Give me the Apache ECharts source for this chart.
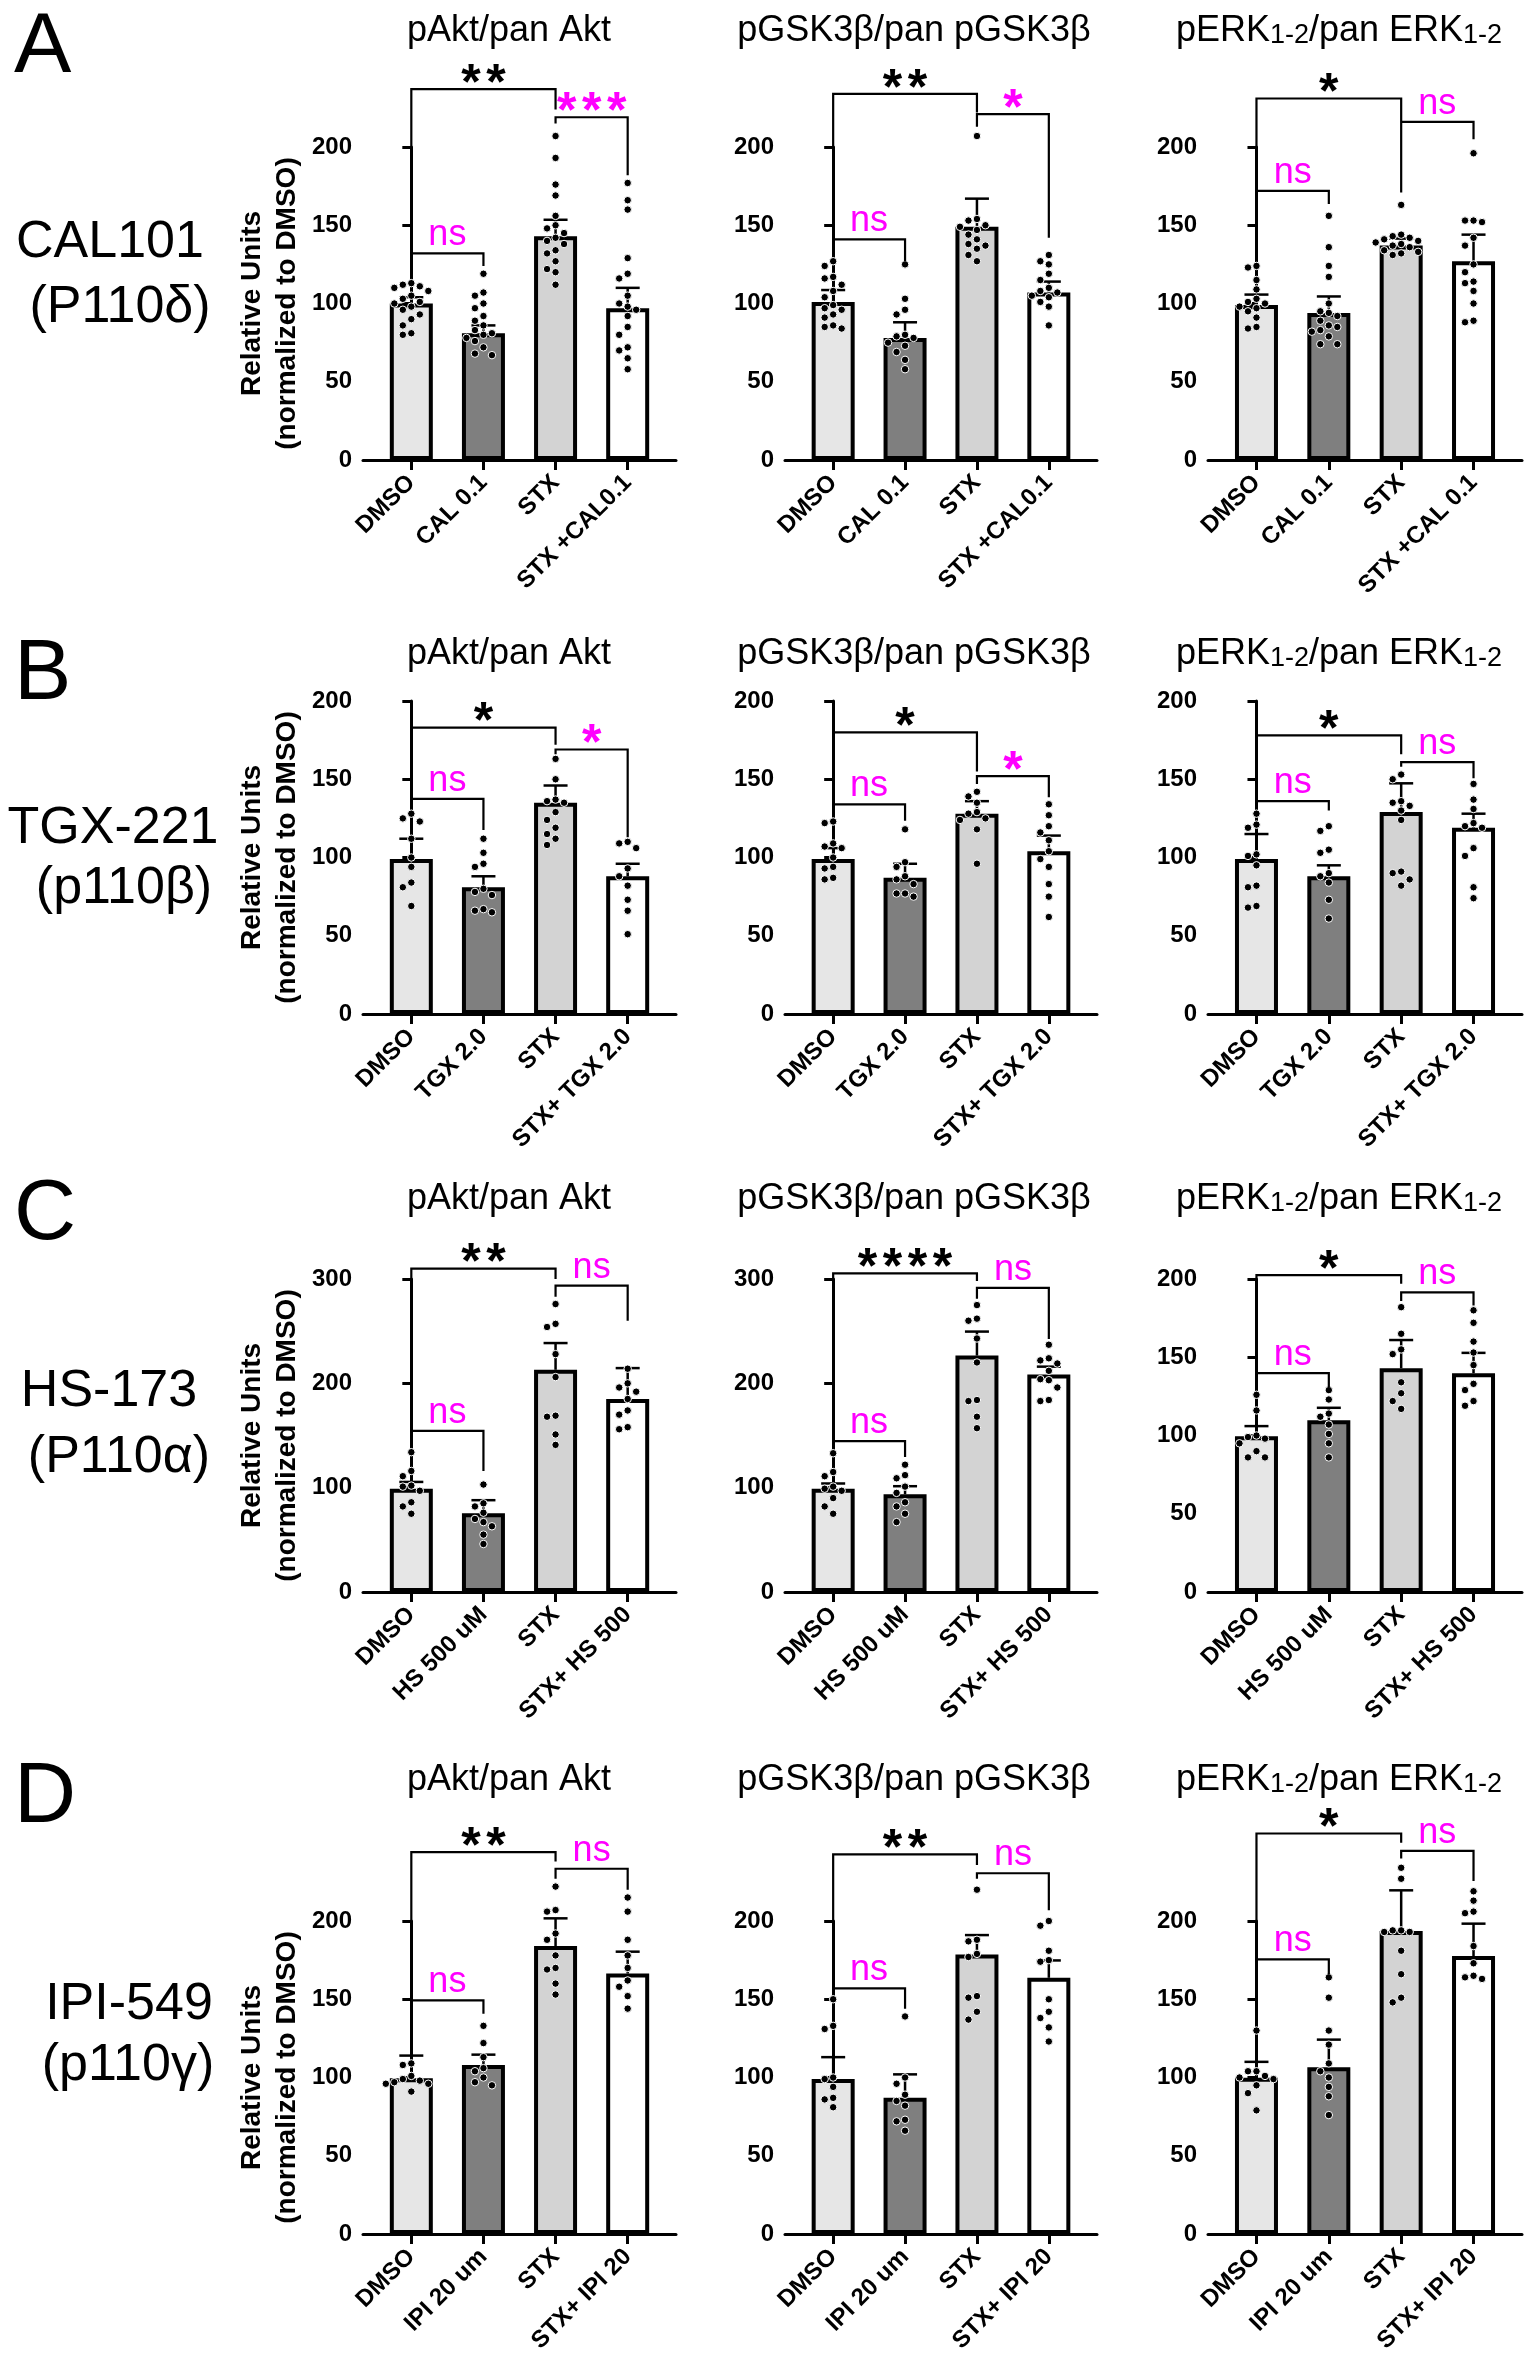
<!DOCTYPE html>
<html>
<head>
<meta charset="utf-8">
<title>PI3K isoform inhibitors – pAkt / pGSK3β / pERK</title>
<script src="https://cdn.jsdelivr.net/npm/echarts@6/dist/echarts.min.js"></script>
<style>
  html, body { margin: 0; padding: 0; background: #fff; }
  #main { width: 1535px; height: 2362px; }
</style>
</head>
<body>
<div id="main"></div>
<script>
const FONT = '"Liberation Sans", Arial, Helvetica, sans-serif';
const MAGENTA = '#ff00ff';

// x labels per row
const catsCal = ['DMSO', 'CAL 0.1', 'STX', 'STX +CAL0.1'];
const catsCalErk = ['DMSO', 'CAL 0.1', 'STX', 'STX +CAL 0.1'];
const catsTgx = ['DMSO', 'TGX 2.0', 'STX', 'STX+ TGX 2.0'];
const catsHs = ['DMSO', 'HS 500 uM', 'STX', 'STX+ HS 500'];
const catsIpi = ['DMSO', 'IPI 20 um', 'STX', 'STX+ IPI 20'];

const titles = ['pAkt/pan Akt', 'pGSK3β/pan pGSK3β', '{a|pERK}{s|1-2}{a|/pan ERK}{s|1-2}'];
const rowLetters = ['A', 'B', 'C', 'D'];
const rowDrug = [['CAL101', '(P110δ)'], ['TGX-221', '(p110β)'], ['HS-173', '(P110α)'], ['IPI-549', '(p110γ)']];
const yName = 'Relative Units\n(normalized to DMSO)';

// ---- A: CAL101 ----
const calAktMean = [100, 81, 143, 97];
const calAktSem = [4, 5, 10.5, 13];
const calAktDots = [
  [113, 112, 111, 110, 108, 105, 103, 101, 100, 98, 96, 93, 90, 86, 81, 80],
  [119, 107, 105, 100, 97, 92, 89, 86, 83, 81, 80, 78, 76, 72, 68, 67],
  [207, 193, 176, 169, 156, 150, 148, 145, 142, 140, 138, 134, 132, 127, 122, 120, 112],
  [177, 166, 160, 129, 119, 116, 105, 100, 98, 96, 92, 85, 80, 72, 70, 65, 58]
];
// [from, to, top, left leg end, right leg end, label]
const calAktSig = [[0, 2, 237, 136, 224, '**'], [2, 3, 219, 215, 182, '***'], [0, 1, 132, 124, 124, 'ns']];

const calGskMean = [101, 78, 149, 107];
const calGskSem = [7.6, 10, 18, 7];
const calGskDots = [
  [127, 124, 117, 116, 112, 108, 104, 99, 97, 96, 93, 91, 86, 85, 84],
  [125, 103, 96, 93, 80, 79, 78, 75, 73, 69, 64, 58],
  [207, 154, 153, 150, 149, 147, 144, 141, 138, 137, 135, 131, 127],
  [131, 127, 125, 119, 115, 110, 108, 107, 105, 104, 101, 98, 86]
];
const calGskSig = [[0, 2, 234, 148, 222, '**'], [2, 3, 221, 213, 142, '*'], [0, 1, 141, 134.5, 127, 'ns']];

const calErkMean = [99, 94, 137, 127];
const calErkSem = [6.7, 10.5, 4.5, 17];
const calErkDots = [
  [124, 123, 115, 109, 103, 101, 100, 98, 97, 95, 91, 85, 84],
  [156, 136, 124, 117, 100, 95, 94, 92, 89, 86, 85, 83, 82, 79, 74, 74],
  [163, 144, 143, 142, 141, 140, 139, 138, 137, 136, 134, 133, 132, 131],
  [196, 153, 153, 152, 142, 137, 125, 120, 114, 113, 108, 100, 89, 88]
];
const calErkSig = [[0, 2, 231, 178, 171, '*'], [2, 3, 216, 216, 205, 'ns'], [0, 1, 172, 167, 163.5, 'ns']];

// ---- B: TGX-221 ----
const tgxAktMean = [99, 81, 135, 88];
const tgxAktSem = [13, 7, 11, 8];
const tgxAktDots = [
  [128, 125, 123, 112, 100, 94, 84, 81, 69],
  [112, 103, 96, 94, 80, 78, 76, 67, 66, 65],
  [163, 150, 137, 136, 135, 129, 124, 119, 115, 112, 108],
  [110, 109, 106, 93, 88, 82, 73, 66, 51]
];
const tgxAktSig = [[0, 2, 183, 144, 172, '*'], [2, 3, 169, 166, 113, '*'], [0, 1, 137.5, 132, 117.5, 'ns']];

const tgxGskMean = [99, 87, 128, 104];
const tgxGskSem = [7, 9, 8, 10];
const tgxGskDots = [
  [123, 122, 109, 107, 106, 100, 94, 93, 87, 86],
  [118, 97, 94, 88, 86, 83, 77, 77, 75],
  [142, 139, 135, 129, 128, 125, 124, 118, 96],
  [134, 127, 120, 116, 111, 104, 99, 94, 83, 75, 62]
];
const tgxGskSig = [[0, 2, 180, 135, 155, '*'], [2, 3, 152, 147, 138.5, '*'], [0, 1, 134, 128, 123.5, 'ns']];

const tgxErkMean = [99, 88, 129, 119];
const tgxErkSem = [16, 7, 18.4, 9];
const tgxErkDots = [
  [128, 121, 119, 102, 101, 95, 82, 81, 69, 68],
  [120, 117, 105, 103, 90, 88, 84, 73, 61],
  [153, 150, 136, 135, 133, 130, 124, 91, 90, 86, 82],
  [147, 137, 131, 122, 120, 119, 106, 101, 81, 74]
];
const tgxErkSig = [[0, 2, 178, 141, 166, '*'], [2, 3, 161, 158, 150.6, 'ns'], [0, 1, 136, 131, 130, 'ns']];

// ---- C: HS-173 ----
const hsAktMean = [99, 75.5, 213, 185];
const hsAktSem = [6.5, 12.5, 25.6, 29.6];
const hsAktDots = [
  [134, 116, 111, 102, 101, 97, 86, 82, 75],
  [103, 85, 82, 76, 70, 67, 63, 55, 46],
  [276, 257, 254, 228, 206, 169, 168, 151, 141],
  [214, 200, 196, 192, 185, 174, 170, 158, 156]
];
const hsAktSig = [[0, 2, 310, 172, 300, '**'], [2, 3, 293.6, 283, 260, 'ns'], [0, 1, 154.5, 150, 116, 'ns']];

const hsGskMean = [99, 93.7, 226.6, 208.5];
const hsGskSem = [5, 7.7, 23, 7.5];
const hsGskDots = [
  [133, 115, 111, 101, 99, 97, 90, 82, 75],
  [122, 112, 109, 101, 95, 86, 82, 75, 67],
  [275, 262, 260, 243, 220, 184, 183, 168, 157],
  [237, 224, 222, 219, 212, 204, 203, 196, 184, 183]
];
const hsGskSig = [[0, 2, 305.4, 152, 298, '****'], [2, 3, 291.4, 281, 242.6, 'ns'], [0, 1, 144.7, 139, 129.4, 'ns']];

const hsErkMean = [99.5, 109.7, 143, 139.8];
const hsErkSem = [6.5, 8, 18, 13];
const hsErkDots = [
  [126, 116, 100, 99, 98, 95, 90, 86, 86],
  [129, 123, 114, 112, 107, 101, 95, 86],
  [182, 165, 155, 152, 134, 127, 122, 117],
  [180, 172, 160, 153, 145, 133, 129, 122, 119]
];
const hsErkSig = [[0, 2, 202.5, 146, 197, '*'], [2, 3, 191.5, 186, 183, 'ns'], [0, 1, 139.8, 136, 131, 'ns']];

// ---- D: IPI-549 ----
const ipiAktMean = [99.5, 108, 184, 166.4];
const ipiAktSem = [14.5, 6.6, 17.7, 14];
const ipiAktDots = [
  [109, 108, 101, 99, 98, 97, 96, 96, 91],
  [133, 122, 113, 106, 104, 100, 97, 95],
  [222, 207, 206, 192, 188, 178, 170, 169, 160, 153],
  [215, 206, 188, 178, 170, 162, 158, 152, 144]
];
const ipiAktSig = [[0, 2, 244, 157, 238, '**'], [2, 3, 233.4, 227, 220, 'ns'], [0, 1, 149.3, 122.6, 140.7, 'ns']];

const ipiGskMean = [99, 87, 178.6, 163.7];
const ipiGskSem = [14, 15, 12.4, 11.1];
const ipiGskDots = [
  [150, 133, 131, 100, 99, 94, 87, 86, 81],
  [139, 100, 96, 89, 85, 82, 73, 72, 66],
  [220, 188, 187, 179, 177, 152, 151, 142, 137],
  [200, 197, 181, 175, 174, 150, 142, 138, 132, 123]
];
const ipiGskSig = [[0, 2, 242.6, 164.6, 235.8, '**'], [2, 3, 230.5, 227, 206.8, 'ns'], [0, 1, 157, 154, 144, 'ns']];

const ipiErkMean = [99.9, 106.5, 193.6, 177.6];
const ipiErkSem = [10.1, 17.7, 26, 20.7];
const ipiErkDots = [
  [130, 104, 104, 101, 100, 99, 95, 90, 79],
  [164, 151, 130, 121, 109, 104, 100, 94, 88, 76],
  [234, 227, 194, 194, 193, 193, 181, 166, 151, 148],
  [219, 213, 206, 205, 184, 173, 165, 164, 163]
];
const ipiErkSig = [[0, 2, 255.9, 180, 250, '*'], [2, 3, 244.8, 240, 225.6, 'ns'], [0, 1, 175.5, 138.3, 165.9, 'ns']];

const panels = [
  { row: 0, col: 0, cats: catsCal, mean: calAktMean, sem: calAktSem, dots: calAktDots, sig: calAktSig, yMax: 200, yStep: 50 },
  { row: 0, col: 1, cats: catsCal, mean: calGskMean, sem: calGskSem, dots: calGskDots, sig: calGskSig, yMax: 200, yStep: 50 },
  { row: 0, col: 2, cats: catsCalErk, mean: calErkMean, sem: calErkSem, dots: calErkDots, sig: calErkSig, yMax: 200, yStep: 50 },
  { row: 1, col: 0, cats: catsTgx, mean: tgxAktMean, sem: tgxAktSem, dots: tgxAktDots, sig: tgxAktSig, yMax: 200, yStep: 50 },
  { row: 1, col: 1, cats: catsTgx, mean: tgxGskMean, sem: tgxGskSem, dots: tgxGskDots, sig: tgxGskSig, yMax: 200, yStep: 50 },
  { row: 1, col: 2, cats: catsTgx, mean: tgxErkMean, sem: tgxErkSem, dots: tgxErkDots, sig: tgxErkSig, yMax: 200, yStep: 50 },
  { row: 2, col: 0, cats: catsHs, mean: hsAktMean, sem: hsAktSem, dots: hsAktDots, sig: hsAktSig, yMax: 300, yStep: 100 },
  { row: 2, col: 1, cats: catsHs, mean: hsGskMean, sem: hsGskSem, dots: hsGskDots, sig: hsGskSig, yMax: 300, yStep: 100 },
  { row: 2, col: 2, cats: catsHs, mean: hsErkMean, sem: hsErkSem, dots: hsErkDots, sig: hsErkSig, yMax: 200, yStep: 50 },
  { row: 3, col: 0, cats: catsIpi, mean: ipiAktMean, sem: ipiAktSem, dots: ipiAktDots, sig: ipiAktSig, yMax: 200, yStep: 50 },
  { row: 3, col: 1, cats: catsIpi, mean: ipiGskMean, sem: ipiGskSem, dots: ipiGskDots, sig: ipiGskSig, yMax: 200, yStep: 50 },
  { row: 3, col: 2, cats: catsIpi, mean: ipiErkMean, sem: ipiErkSem, dots: ipiErkDots, sig: ipiErkSig, yMax: 200, yStep: 50 }
];

// layout
const rowTop = [147, 701, 1279, 1921];
const plotH = 313;
const colLeft = [363, 785, 1208];
const plotW = [313, 312, 314];
const X_MIN = -0.67, X_MAX = 3.67;
const barFill = ['#e6e6e6', '#7f7f7f', '#d3d3d3', '#ffffff'];

// simple beeswarm: spread points sideways so they don't overlap (px -> x units)
function swarm(vals, pxPerY, pxPerX) {
  const gap = 8.5, step = 8.5;
  const order = vals.map((v, i) => i).sort((a, b) => vals[b] - vals[a]);
  const placed = [];
  const off = [];
  order.forEach(i => {
    const y = vals[i] * pxPerY;
    for (let k = 0; k < 40; k++) {
      const c = k === 0 ? 0 : (k % 2 ? -1 : 1) * Math.ceil(k / 2) * step;
      if (placed.every(p => Math.hypot(p[0] - c, p[1] - y) >= gap)) {
        placed.push([c, y]);
        off[i] = c / pxPerX;
        break;
      }
    }
  });
  return off;
}

const chart = echarts.init(document.getElementById('main'));
const option = {
  animation: false,
  backgroundColor: '#fff',
  grid: [], xAxis: [], yAxis: [], series: [], graphic: []
};

panels.forEach((p, k) => {
  const w = plotW[p.col];
  option.grid.push({ left: colLeft[p.col], top: rowTop[p.row], width: w, height: plotH, containLabel: false });
  option.xAxis.push({
    gridIndex: k, type: 'value', min: X_MIN, max: X_MAX,
    axisLine: { show: true, onZero: false, lineStyle: { color: '#000', width: 3 } },
    axisTick: { show: true, customValues: [0, 1, 2, 3], length: 10, lineStyle: { color: '#000', width: 3 } },
    axisLabel: {
      show: true, customValues: [0, 1, 2, 3], rotate: 45, margin: 19,
      formatter: v => p.cats[Math.round(v)],
      color: '#000', fontWeight: 'bold', fontSize: 24, fontFamily: FONT
    },
    splitLine: { show: false }
  });
  option.yAxis.push({
    gridIndex: k, type: 'value', min: 0, max: p.yMax, interval: p.yStep,
    name: p.col === 0 ? yName : '', nameLocation: 'middle', nameRotate: 90, nameGap: 58,
    nameTextStyle: { color: '#000', fontWeight: 'bold', fontSize: 28, lineHeight: 35, fontFamily: FONT },
    axisLine: { show: true, lineStyle: { color: '#000', width: 3 } },
    axisTick: { show: true, length: 9, lineStyle: { color: '#000', width: 3 } },
    axisLabel: { margin: 11, color: '#000', fontWeight: 'bold', fontSize: 24, fontFamily: FONT },
    splitLine: { show: false }
  });

  // bars (mean)
  option.series.push({
    type: 'bar', xAxisIndex: k, yAxisIndex: k, barWidth: 43, z: 2, silent: true,
    itemStyle: { borderColor: '#000', borderWidth: 4 },
    data: p.mean.map((m, i) => ({ value: [i, m], itemStyle: { color: barFill[i] } }))
  });

  // SEM, upper half only
  option.series.push({
    type: 'custom', xAxisIndex: k, yAxisIndex: k, z: 3, silent: true, clip: false,
    encode: { x: 0, y: 1 },
    data: p.mean.map((m, i) => [i, m, p.sem[i]]),
    renderItem: (params, api) => {
      const x = api.value(0), m = api.value(1), s = api.value(2);
      const a = api.coord([x, m]), b = api.coord([x, m + s]);
      const st = { stroke: '#000', lineWidth: 2.5 };
      return {
        type: 'group', children: [
          { type: 'line', shape: { x1: a[0], y1: a[1], x2: b[0], y2: b[1] }, style: st },
          { type: 'line', shape: { x1: b[0] - 12, y1: b[1], x2: b[0] + 12, y2: b[1] }, style: st }
        ]
      };
    }
  });

  // individual points
  const pts = [];
  p.dots.forEach((vals, i) => {
    const off = swarm(vals, plotH / p.yMax, w / (X_MAX - X_MIN));
    vals.forEach((v, j) => pts.push([i + off[j], v]));
  });
  option.series.push({
    type: 'scatter', xAxisIndex: k, yAxisIndex: k, z: 4, silent: true, clip: false,
    symbolSize: 7.5,
    itemStyle: { color: '#000', borderColor: '#fff', borderWidth: 1, opacity: 1 },
    data: pts
  });

  // significance brackets
  option.series.push({
    type: 'custom', xAxisIndex: k, yAxisIndex: k, z: 5, silent: true, clip: false,
    encode: { x: 0, y: 1 },
    data: p.sig.map(s => [s[0], s[2]]),
    renderItem: (params, api) => {
      const s = p.sig[params.dataIndex];
      const a = api.coord([s[0], s[3]]), b = api.coord([s[0], s[2]]);
      const c = api.coord([s[1], s[2]]), d = api.coord([s[1], s[4]]);
      const color = (s[0] === 0 && s[1] === 2) ? '#000' : MAGENTA;
      const mid = (b[0] + c[0]) / 2;
      const kids = [{
        type: 'polyline', shape: { points: [a, b, c, d] },
        style: { stroke: '#000', lineWidth: 2.2, fill: 'none' }
      }];
      if (s[5] === 'ns') {
        kids.push({
          type: 'text', x: mid, y: b[1] - 18,
          style: { text: 'ns', fill: color, font: '36px ' + FONT, align: 'center', verticalAlign: 'middle', textAlign: 'center', textVerticalAlign: 'middle' }
        });
      } else {
        const n = s[5].length;
        for (let j = 0; j < n; j++) {
          kids.push({
            type: 'text', x: mid + (j - (n - 1) / 2) * 25, y: b[1] - 4,
            style: { text: '*', fill: color, font: 'bold 50px ' + FONT, align: 'center', verticalAlign: 'middle', textAlign: 'center', textVerticalAlign: 'middle' }
          });
        }
      }
      return { type: 'group', children: kids };
    }
  });
});

// titles, panel letters, drug labels
const titleX = [509, 914, 1339];
const titleY = [31, 654, 1199, 1780];
const letterY = [48, 675, 1215, 1798];
const drugPos = [
  [[110, 243], [120, 308]],
  [[113, 829], [124, 889]],
  [[109, 1392], [119, 1458]],
  [[129, 2005], [128, 2066]]
];
function txt(x, y, text, font, align, extra) {
  return {
    type: 'text', x: x, y: y, silent: true,
    style: Object.assign({ text: text, fill: '#000', font: font, align: align, verticalAlign: 'middle', textAlign: align, textVerticalAlign: 'middle' }, extra || {})
  };
}
for (let r = 0; r < 4; r++) {
  option.graphic.push(txt(14, letterY[r], rowLetters[r], '86px ' + FONT, 'left'));
  option.graphic.push(txt(drugPos[r][0][0], drugPos[r][0][1], rowDrug[r][0], '52px ' + FONT, 'center'));
  option.graphic.push(txt(drugPos[r][1][0], drugPos[r][1][1], rowDrug[r][1], '52px ' + FONT, 'center'));
  for (let c = 0; c < 3; c++) {
    option.graphic.push(txt(titleX[c], titleY[r], titles[c], '36px ' + FONT, 'center', {
      rich: {
        a: { font: '36px ' + FONT, fill: '#000', verticalAlign: 'bottom' },
        s: { font: '27px ' + FONT, fill: '#000', verticalAlign: 'bottom' }
      }
    }));
  }
}

chart.setOption(option);
</script>
</body>
</html>
